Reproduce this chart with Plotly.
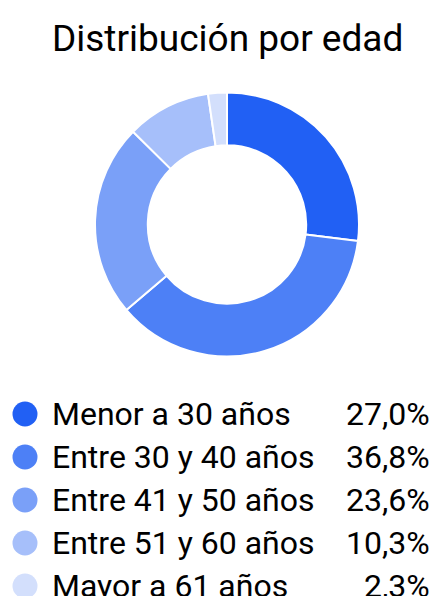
import plotly.graph_objects as go

title = "Distribución por edad"
categories = ["Menor a 30 años", "Entre 30 y 40 años", "Entre 41 y 50 años",
              "Entre 51 y 60 años", "Mayor a 61 años"]
values = [27.0, 36.8, 23.6, 10.3, 2.3]
colors = ["#2160F4", "#4D80F6", "#7AA0F8", "#A6BFFA", "#D3DFFC"]

W, H = 440, 596
FONT = "Roboto"

# donut geometry (pixels)
cx, cy, r = 227, 224.5, 132
dom_x = [(cx - r) / W, (cx + r) / W]
dom_y = [(H - cy - r) / H, (H - cy + r) / H]

fig = go.Figure()
fig.add_trace(go.Pie(
    labels=categories, values=values, sort=False, direction="clockwise",
    rotation=0, hole=0.6, textinfo="none", hoverinfo="label+percent",
    marker=dict(colors=colors, line=dict(color="white", width=2)),
    domain=dict(x=dom_x, y=dom_y), showlegend=False,
))

# legend built on a pixel-scaled hidden axis
row0, row_gap = 414, 43
rows = [row0 + row_gap * i for i in range(len(categories))]
fig.add_trace(go.Scatter(
    x=[25] * len(categories), y=rows, mode="markers",
    marker=dict(size=25, color=colors, line=dict(width=0)),
    hoverinfo="skip", showlegend=False, xaxis="x", yaxis="y",
))

annotations = [dict(
    text=title, x=227.5, y=38, xref="x", yref="y", xanchor="center",
    yanchor="middle", showarrow=False, font=dict(family=FONT, size=37, color="#000"),
)]
for cat, val, yy in zip(categories, values, rows):
    annotations.append(dict(
        text=cat, x=50, y=yy, xref="x", yref="y", xanchor="left", yanchor="middle",
        showarrow=False, font=dict(family=FONT, size=32, color="#000"),
    ))
    annotations.append(dict(
        text=f"{val:.1f}".replace(".", ",") + "%", x=432, y=yy, xref="x", yref="y",
        xanchor="right", yanchor="middle", showarrow=False,
        font=dict(family=FONT, size=32, color="#000"),
    ))

fig.update_layout(
    width=W, height=H, margin=dict(l=0, r=0, t=0, b=0),
    paper_bgcolor="white", plot_bgcolor="rgba(0,0,0,0)",
    xaxis=dict(range=[0, W], domain=[0, 1], visible=False, fixedrange=True),
    yaxis=dict(range=[H, 0], domain=[0, 1], visible=False, fixedrange=True),
    annotations=annotations, font=dict(family=FONT),
)

fig.write_html("out.html", config={"displayModeBar": False},
               post_script="document.body.style.margin='0';document.body.style.overflow='hidden';")
